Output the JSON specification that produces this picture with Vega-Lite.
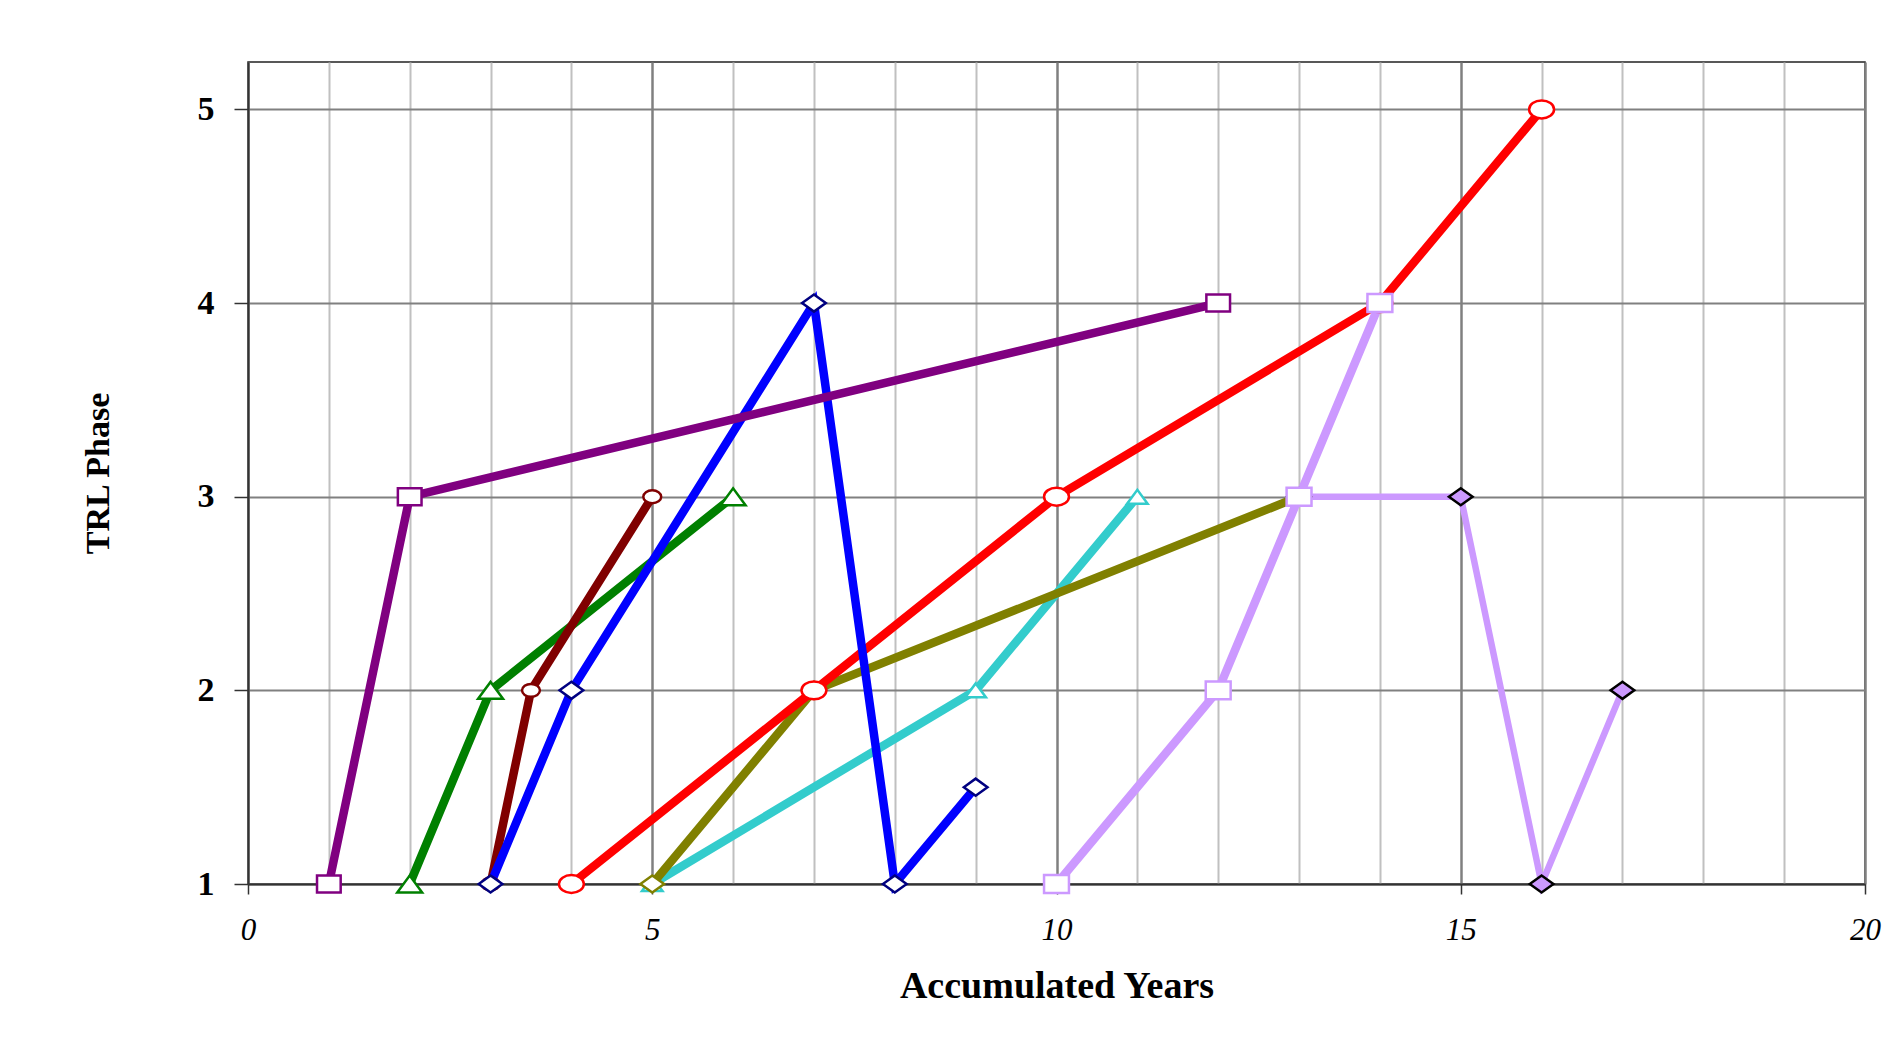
{
  "$schema": "https://vega.github.io/schema/vega-lite/v6.json",
  "width": 1617,
  "height": 822,
  "autosize": "none",
  "padding": {"left": 248, "top": 62, "right": 24, "bottom": 162},
  "background": "#ffffff",
  "config": {
    "view": {"stroke": "#222222", "strokeWidth": 1.5},
    "font": "Liberation Serif"
  },
  "data": {
    "values": [
      {"series": "S7", "year": 5, "trl": 1},
      {"series": "S7", "year": 9, "trl": 2},
      {"series": "S7", "year": 11, "trl": 3},
      {"series": "S6", "year": 5, "trl": 1},
      {"series": "S6", "year": 7, "trl": 2},
      {"series": "S6", "year": 13, "trl": 3},
      {"series": "S5", "year": 4, "trl": 1},
      {"series": "S5", "year": 7, "trl": 2},
      {"series": "S5", "year": 10, "trl": 3},
      {"series": "S5", "year": 14, "trl": 4},
      {"series": "S5", "year": 16, "trl": 5},
      {"series": "S2", "year": 2, "trl": 1},
      {"series": "S2", "year": 3, "trl": 2},
      {"series": "S2", "year": 6, "trl": 3},
      {"series": "S3", "year": 3, "trl": 1},
      {"series": "S3", "year": 3.5, "trl": 2},
      {"series": "S3", "year": 5, "trl": 3},
      {"series": "S4", "year": 3, "trl": 1},
      {"series": "S4", "year": 4, "trl": 2},
      {"series": "S4", "year": 7, "trl": 4},
      {"series": "S4", "year": 8, "trl": 1},
      {"series": "S4", "year": 9, "trl": 1.5},
      {"series": "S1", "year": 1, "trl": 1},
      {"series": "S1", "year": 2, "trl": 3},
      {"series": "S1", "year": 12, "trl": 4},
      {"series": "S9", "year": 13, "trl": 3},
      {"series": "S9", "year": 15, "trl": 3},
      {"series": "S9", "year": 16, "trl": 1},
      {"series": "S9", "year": 17, "trl": 2},
      {"series": "S8", "year": 10, "trl": 1},
      {"series": "S8", "year": 12, "trl": 2},
      {"series": "S8", "year": 13, "trl": 3},
      {"series": "S8", "year": 14, "trl": 4}
    ]
  },
  "encoding": {
    "x": {
      "field": "year",
      "type": "quantitative",
      "scale": {"domain": [0, 20], "nice": false, "zero": false},
      "axis": {
        "values": [0,1,2,3,4,5,6,7,8,9,10,11,12,13,14,15,16,17,18,19,20],
        "grid": true,
        "gridColor": {"condition": {"test": "datum.value % 5 === 0", "value": "#808080"}, "value": "#c0c0c0"},
        "gridWidth": {"condition": {"test": "datum.value % 5 === 0", "value": 2.5}, "value": 2},
        "labelExpr": "datum.value % 5 === 0 ? datum.label : ''",
        "tickColor": {"condition": {"test": "datum.value % 5 === 0", "value": "#333333"}, "value": "transparent"},
        "tickSize": 10,
        "tickWidth": 1.5,
        "domainColor": "#333333",
        "domainWidth": 2,
        "labelFont": "Liberation Serif",
        "labelFontStyle": "italic",
        "labelFontSize": 31,
        "labelColor": "#000000",
        "labelPadding": 21,
        "labelFlush": false,
        "labelOverlap": false,
        "labelBound": false,
        "title": "Accumulated Years",
        "titleFont": "Liberation Serif",
        "titleFontSize": 38,
        "titleFontWeight": "bold",
        "titleColor": "#000000",
        "titlePadding": 22
      }
    },
    "y": {
      "field": "trl",
      "type": "quantitative",
      "scale": {"domain": [1, 5.245], "nice": false, "zero": false},
      "axis": {
        "values": [1, 2, 3, 4, 5],
        "grid": true,
        "gridColor": "#808080",
        "gridWidth": 2,
        "tickSize": 14,
        "tickColor": "#333333",
        "tickWidth": 1.5,
        "domainColor": "#333333",
        "domainWidth": 2,
        "labelFont": "Liberation Serif",
        "labelFontWeight": "bold",
        "labelFontSize": 34,
        "labelColor": "#000000",
        "labelPadding": 20,
        "title": "TRL Phase",
        "titleFont": "Liberation Serif",
        "titleFontSize": 34,
        "titleFontWeight": "bold",
        "titleColor": "#000000",
        "titlePadding": 82
      }
    }
  },
  "layer": [
    {
      "mark": {"type": "line", "strokeJoin": "miter"},
      "encoding": {
        "color": {
          "field": "series",
          "type": "nominal",
          "scale": {
            "domain": ["S1", "S2", "S3", "S4", "S5", "S6", "S7", "S8", "S9"],
            "range": ["#800080", "#008000", "#800000", "#0000ff", "#ff0000", "#808000", "#33cccc", "#cc99ff", "#cc99ff"]
          },
          "legend": null
        },
        "strokeWidth": {"condition": {"test": "datum.series === 'S9'", "value": 6.5}, "value": 8.5}
      }
    },
    {
      "mark": {"type": "point", "filled": true, "opacity": 1, "strokeWidth": 2.5},
      "encoding": {
        "fill": {
          "field": "series",
          "type": "nominal",
          "scale": {
            "domain": ["S1", "S2", "S3", "S4", "S5", "S6", "S7", "S8", "S9"],
            "range": ["#ffffff", "#ffffff", "#ffffff", "#ffffff", "#ffffff", "#ffffff", "#ffffff", "#ffffff", "#cc99ff"]
          },
          "legend": null
        },
        "stroke": {
          "field": "series",
          "type": "nominal",
          "scale": {
            "domain": ["S1", "S2", "S3", "S4", "S5", "S6", "S7", "S8", "S9"],
            "range": ["#800080", "#008000", "#800000", "#000080", "#ff0000", "#808000", "#33cccc", "#cc99ff", "#000000"]
          },
          "legend": null
        },
        "shape": {
          "field": "series",
          "type": "nominal",
          "scale": {
            "domain": ["S1", "S2", "S3", "S4", "S5", "S6", "S7", "S8", "S9"],
            "range": [
              "M-1,-0.72L1,-0.72L1,0.72L-1,0.72Z",
              "M-1,0.68L0,-0.68L1,0.68Z",
              "M-1,0A1,0.72,0,1,1,1,0A1,0.72,0,1,1,-1,0Z",
              "M-1,0L0,-0.72L1,0L0,0.72Z",
              "M-1,0A1,0.72,0,1,1,1,0A1,0.72,0,1,1,-1,0Z",
              "M-1,0L0,-0.72L1,0L0,0.72Z",
              "M-1,0.68L0,-0.68L1,0.68Z",
              "M-1,-0.72L1,-0.72L1,0.72L-1,0.72Z",
              "M-1,0L0,-0.72L1,0L0,0.72Z"
            ]
          },
          "legend": null
        },
        "size": {
          "condition": [
            {"test": "datum.series === 'S3'", "value": 320},
            {"test": "datum.series === 'S7'", "value": 420},
            {"test": "datum.series === 'S2' || datum.series === 'S5' || datum.series === 'S8'", "value": 620}
          ],
          "value": 560
        }
      }
    }
  ]
}
